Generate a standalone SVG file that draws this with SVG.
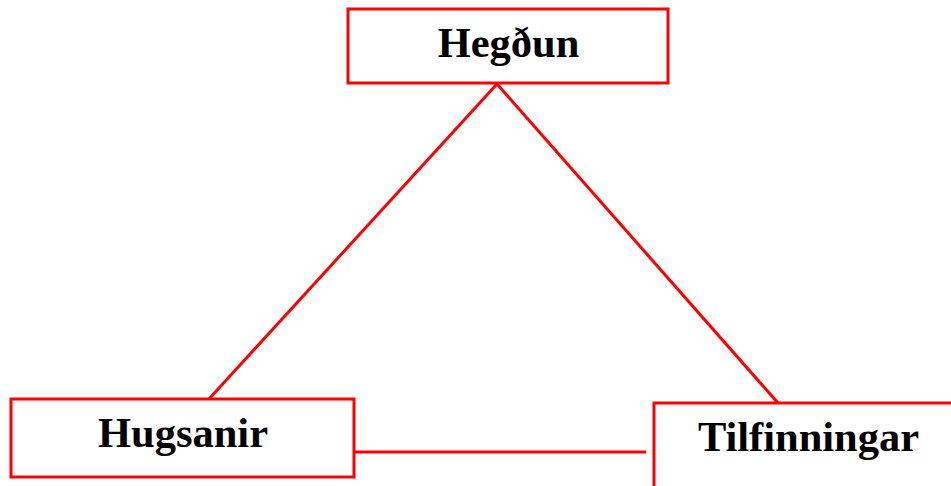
<svg xmlns="http://www.w3.org/2000/svg" width="951" height="486" viewBox="0 0 951 486">
<style>
.box{fill:#fff;stroke:#ff0000;stroke-width:3}
.lbl{font-family:"Liberation Serif","Times New Roman",serif;font-weight:bold;font-size:42.5px;fill:#000;text-anchor:middle}
.con line{stroke:#ff0000;stroke-width:3}
</style>
<rect width="951" height="486" fill="#fff"/>
<g id="connectors" class="con">
<line x1="497" y1="84" x2="209" y2="399"/>
<line x1="497" y1="84" x2="778" y2="403"/>
<line x1="354" y1="452" x2="646" y2="452"/>
</g>
<g id="hegdun">
<rect class="box" x="348" y="9" width="320" height="74"/>
<text class="lbl" x="508.5" y="57">Hegðun</text>
</g>
<g id="hugsanir">
<rect class="box" x="11" y="399" width="343" height="78"/>
<text class="lbl" x="183" y="447">Hugsanir</text>
</g>
<g id="tilfinningar">
<rect class="box" x="654" y="403" width="320" height="100"/>
<text class="lbl" x="808.5" y="451">Tilfinningar</text>
</g>
</svg>
